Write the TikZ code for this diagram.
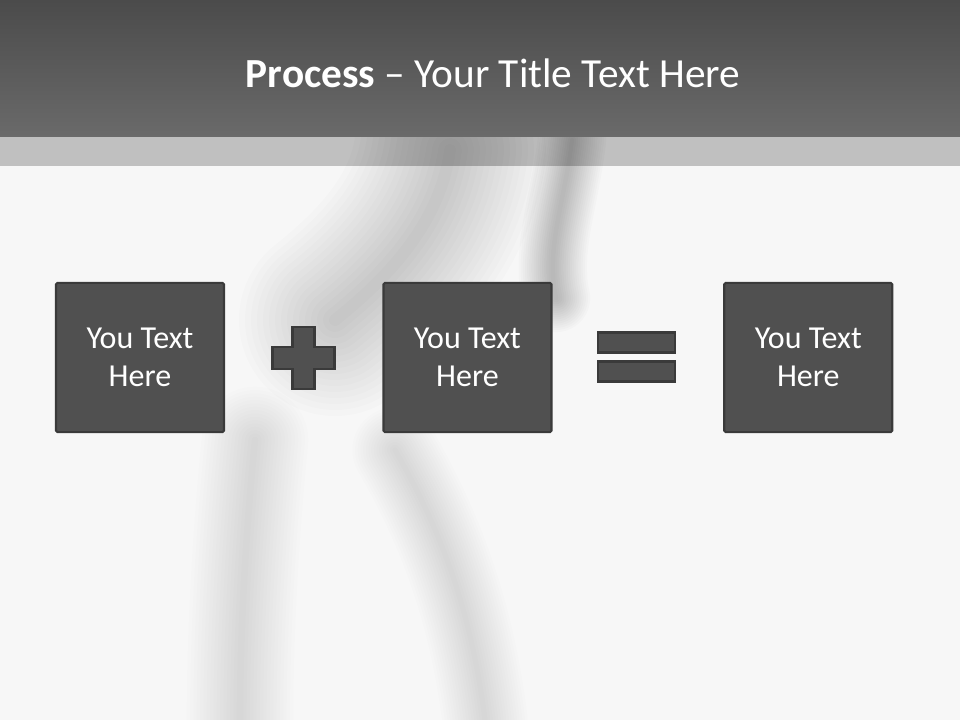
\documentclass[tikz,border=0pt]{standalone}
\usepackage{fontspec}
\setmainfont{Carlito}
\usetikzlibrary{positioning}
\definecolor{headtop}{RGB}{75,75,75}
\definecolor{headbot}{RGB}{106,106,106}
\definecolor{stripgray}{RGB}{192,192,192}
\definecolor{bggray}{RGB}{247,247,247}
\definecolor{boxfill}{RGB}{80,80,80}
\definecolor{boxline}{RGB}{58,58,58}

\begin{document}
\begin{tikzpicture}[
  x=0.75pt, y=-0.75pt,
  box/.style={draw=boxline, line width=1.6pt, fill=boxfill, rounded corners=1.2pt,
              minimum width=126pt, minimum height=112pt, text=white, align=center,
              font=\fontsize{24}{29}\selectfont},
  sign/.style={draw=boxline, line width=1.6pt, fill=boxfill},
  bar/.style={sign, minimum width=58pt, minimum height=15pt, inner sep=0pt},
  smoke/.style={line cap=round, black}
]
  % background and strip
  \useasboundingbox (0,0) rectangle (960,720);
  \fill[bggray] (0,0) rectangle (960,720);
  \fill[stripgray] (0,137) rectangle (960,166);
  % soft smoke, built up from many faint strokes
  \foreach \w in {1,...,16} {
    \draw[smoke, line width=\w*9pt, opacity=0.010]
      (450,150) .. controls (440,225) and (385,280) .. (335,320);
    \draw[smoke, line width=\w*3.2pt, opacity=0.014]
      (572,140) .. controls (565,200) and (545,250) .. (556,298);
    \draw[smoke, line width=\w*5pt, opacity=0.007]
      (255,440) .. controls (245,540) and (240,640) .. (240,720);
    \draw[smoke, line width=\w*4pt, opacity=0.006]
      (395,450) .. controls (435,520) and (470,600) .. (485,720);
  }
  % header
  \shade[top color=headtop, bottom color=headbot] (0,0) rectangle (960,137);
  \node[anchor=base, text=white, font=\fontsize{31}{37}\selectfont] (title) at (493,88)
    {\textbf{Process} -- Your Title Text Here};
  % boxes
  \node[box] (first) at (140,357.5) {You Text\\Here};
  \node[box, right=118pt of first] (second) {You Text\\Here};
  \node[box, right=128pt of second] (result) {You Text\\Here};
  % plus sign
  \draw[sign, shift={(303.5,358)}] (-11,-31) -- (11,-31) -- (11,-11) -- (31,-11)
    -- (31,11) -- (11,11) -- (11,31) -- (-11,31) -- (-11,11) -- (-31,11)
    -- (-31,-11) -- (-11,-11) -- cycle;
  % equals sign
  \node[bar] (eqtop) at (636.5,342.5) {};
  \node[bar] (eqbot) at (636.5,371.5) {};
\end{tikzpicture}
\end{document}
